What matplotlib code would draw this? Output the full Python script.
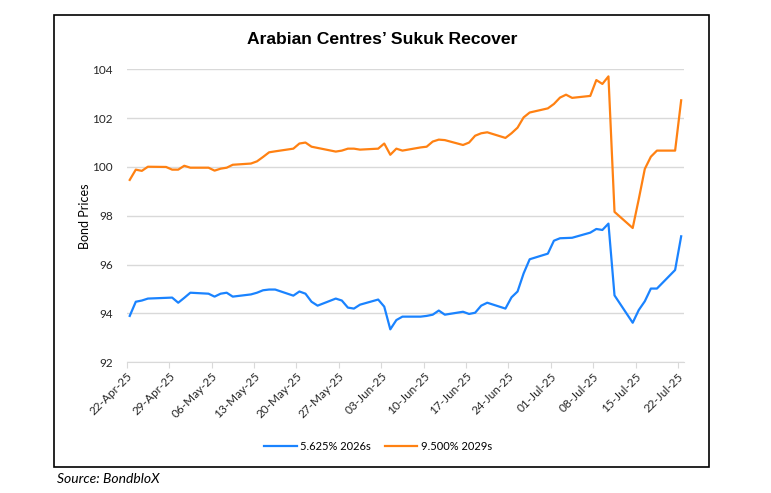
import matplotlib
matplotlib.use("Agg")
import matplotlib.pyplot as plt
import matplotlib.dates as mdates
from matplotlib.patches import Rectangle
import numpy as np
import pandas as pd

dates = ["04-22", "04-23", "04-24", "04-25", "04-28", "04-29", "04-30", "05-01", "05-02",
         "05-05", "05-06", "05-07", "05-08", "05-09", "05-12", "05-13", "05-14", "05-15", "05-16",
         "05-19", "05-20", "05-21", "05-22", "05-23", "05-26", "05-27", "05-28", "05-29", "05-30",
         "06-02", "06-03", "06-04", "06-05", "06-06", "06-09", "06-10", "06-11", "06-12", "06-13",
         "06-16", "06-17", "06-18", "06-19", "06-20", "06-23", "06-24", "06-25", "06-26", "06-27",
         "06-30", "07-01", "07-02", "07-03", "07-04", "07-07", "07-08", "07-09", "07-10", "07-11",
         "07-14", "07-15", "07-16", "07-17", "07-18", "07-21", "07-22"]

sukuk_2026 = [93.9, 94.48, 94.53, 94.61, 94.64, 94.65, 94.44, 94.64, 94.85, 94.81,
              94.69, 94.81, 94.85, 94.69, 94.78, 94.85, 94.95, 94.98, 94.98, 94.73,
              94.9, 94.81, 94.48, 94.32, 94.61, 94.53, 94.24, 94.2, 94.36, 94.57,
              94.28, 93.35, 93.73, 93.87, 93.87, 93.9, 93.95, 94.12, 93.95, 94.07,
              93.98, 94.03, 94.32, 94.44, 94.2, 94.66, 94.9, 95.64, 96.22, 96.45,
              96.98, 97.08, 97.09, 97.1, 97.31, 97.46, 97.42, 97.68, 94.74, 93.62,
              94.14, 94.5, 95.02, 95.02, 95.78, 97.16]

sukuk_2029 = [99.47, 99.89, 99.84, 100.01, 100.0, 99.89, 99.89, 100.05, 99.97, 99.97,
              99.85, 99.93, 99.97, 100.09, 100.14, 100.23, 100.41, 100.6, 100.64, 100.75,
              100.96, 101.0, 100.83, 100.78, 100.63, 100.67, 100.75, 100.75, 100.71, 100.75,
              100.96, 100.5, 100.75, 100.67, 100.8, 100.83, 101.04, 101.12, 101.1, 100.9,
              101.0, 101.28, 101.38, 101.42, 101.19, 101.38, 101.61, 102.03, 102.23, 102.4,
              102.58, 102.84, 102.96, 102.83, 102.91, 103.56, 103.4, 103.71, 98.16, 97.5,
              98.68, 99.92, 100.42, 100.67, 100.67, 102.73]

series_labels = ["5.625% 2026s", "9.500% 2029s"]
y_ticks = [92, 94, 96, 98, 100, 102, 104]

x = pd.to_datetime(["2025-" + d for d in dates]) + pd.Timedelta(hours=12)

fig = plt.figure(figsize=(7.71, 4.93), dpi=100)
W, H = 771, 493
ax = fig.add_axes([126.7 / W, 1 - 362.3 / H, 557.5 / W, 293 / H])

blue = "#1A83FF"
orange = "#FF8112"
ax.plot(x, sukuk_2026, color=blue, lw=1.6, label=series_labels[0], solid_joinstyle="round")
ax.plot(x, sukuk_2029, color=orange, lw=1.6, label=series_labels[1], solid_joinstyle="round")

ax.set_ylim(92, 104)
ax.set_yticks(y_ticks)
ax.set_xlim(pd.Timestamp("2025-04-22"), pd.Timestamp("2025-07-23"))
ticks = pd.date_range("2025-04-22", "2025-07-22", freq="7D")
ax.set_xticks(ticks)
ax.xaxis.set_major_formatter(mdates.DateFormatter("%d-%b-%y"))

ax.grid(axis="y", color="#D9D9D9", lw=1)
ax.set_axisbelow(True)
for s in ["top", "right", "left"]:
    ax.spines[s].set_visible(False)
ax.spines["bottom"].set_color("#D9D9D9")
ax.tick_params(axis="y", length=0, pad=10, labelsize=8.5)
ax.tick_params(axis="x", length=4, color="#D9D9D9", labelsize=8.5, pad=2)
for lab in ax.get_xticklabels():
    lab.set_rotation(45)
    lab.set_ha("right")
    lab.set_rotation_mode("anchor")
for lab in ax.get_xticklabels() + ax.get_yticklabels():
    lab.set_fontfamily("Lato")
    lab.set_color("#262626")

ax.set_ylabel("Bond Prices", fontsize=9, family="Lato", labelpad=1)

fig.text(382 / W, 1 - 40 / H, "Arabian Centres\u2019 Sukuk Recover", ha="center", va="center",
         fontsize=12.6, fontweight="bold", family="Liberation Sans")

leg = fig.legend(loc="center", bbox_to_anchor=(378 / W, 1 - 446 / H), ncol=2, frameon=False,
                 prop={"family": "Lato", "size": 8}, handlelength=2.9, columnspacing=1.3,
                 handletextpad=0.3)

fig.patches.append(Rectangle((54.3 / W, 1 - 467.3 / H), (709.3 - 54.3) / W, (467.3 - 15) / H,
                             transform=fig.transFigure, fill=False, ec="black", lw=1.2))

fig.text(57 / W, 1 - 479 / H, "Source: BondbloX", ha="left", va="center", fontsize=10,
         style="italic", family="Lato")

fig.savefig("out.png", dpi=100)
